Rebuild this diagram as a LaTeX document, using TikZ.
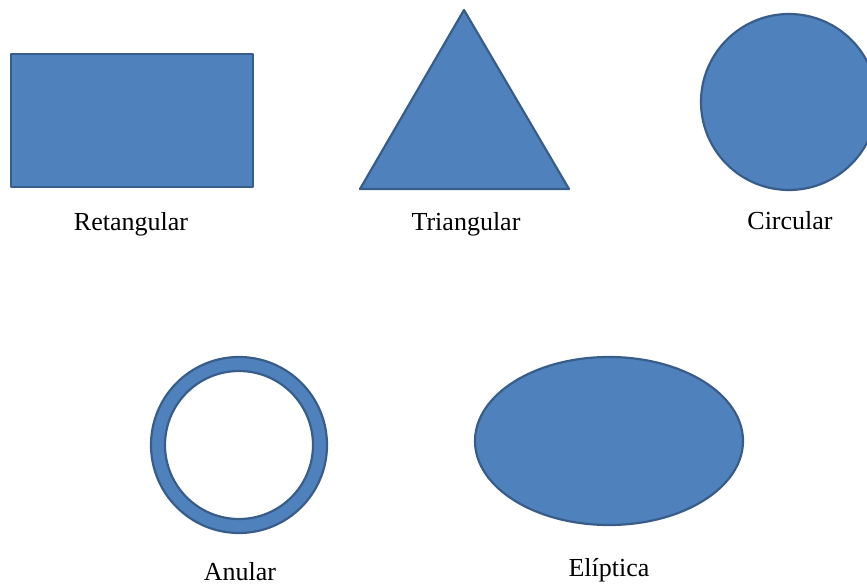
\documentclass[tikz,border=0pt]{standalone}
\usepackage{fontspec}
\setmainfont{Liberation Serif}
\usepackage{tikz}
\definecolor{shapefill}{HTML}{4F81BD}
\definecolor{shapeline}{HTML}{385D8A}
\tikzset{
  shp/.style={fill=shapefill, draw=shapeline, line width=2.2pt, line join=round},
  lbl/.style={font=\fontsize{26}{30}\selectfont, inner sep=0pt, anchor=base}
}
\begin{document}
\begin{tikzpicture}[x=1pt, y=-1pt]
\useasboundingbox (0,0) rectangle (867,585);
\begin{scope}
\clip (0,0) rectangle (867,585);
\draw[shp] (11,54) rectangle (253,187);
\draw[shp] (464,10) -- (569,189) -- (360,189) -- cycle;
\draw[shp] (789,102) circle[radius=88];
\draw[shp, even odd rule] (239,445) circle[radius=88] (239,445) circle[radius=74];
\draw[shp] (609,441) ellipse[x radius=134, y radius=84];
\end{scope}
\node[lbl] (rect) at (131,231) {Retangular};
\node[lbl] (tri) at (466,231) {Triangular};
\node[lbl] (circ) at (790,230) {Circular};
\node[lbl] (ann) at (240,580) {Anular};
\node[lbl] (ell) at (609,576) {Elíptica};
\end{tikzpicture}
\end{document}
